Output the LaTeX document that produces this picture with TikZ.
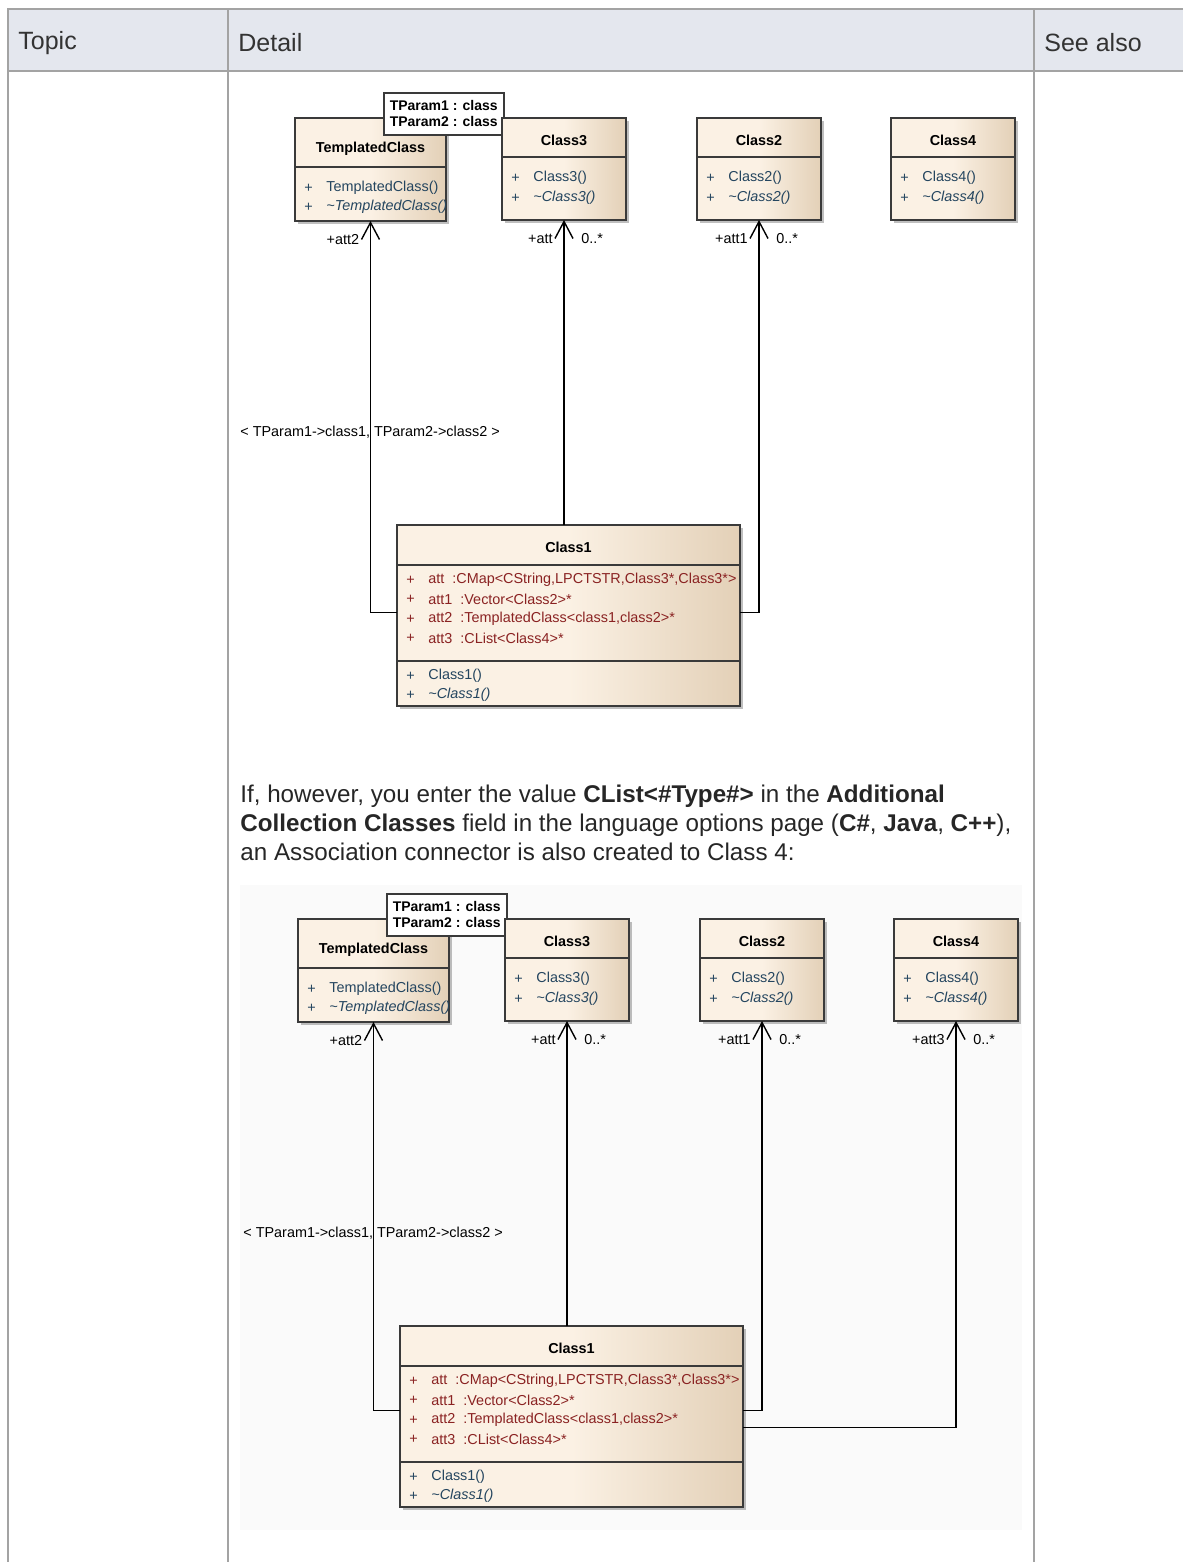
\documentclass[tikz,border=0pt]{standalone}
\usepackage{fontspec}
\setmainfont{Liberation Sans}
\usetikzlibrary{positioning,arrows.meta,shadows}
\definecolor{tablegrid}{HTML}{A3A3A3}
\definecolor{headfill}{HTML}{E4E7EE}
\definecolor{umlcream}{HTML}{FBF1E4}
\definecolor{umltan}{HTML}{E3D0B7}
\definecolor{umledge}{HTML}{3A3A3A}
\definecolor{attred}{HTML}{8A2222}
\definecolor{opblue}{HTML}{24455F}
\definecolor{diagbg}{HTML}{FAFAFA}
\newcommand{\px}{0.5pt}
\newcommand{\umlsize}{\fontsize{7.2pt}{8.6pt}\selectfont}
\newcommand{\textsz}{\fontsize{12.5pt}{14.5pt}\selectfont}
\newcommand{\parasz}{\fontsize{12.1pt}{14.5pt}\selectfont}
% class box: name, north west corner, width, height, title, title offset, rule offset
\newcommand{\umlclass}[7]{%
  \node[classbox,minimum width=#3*\px,minimum height=#4*\px] (#1) at #2 {};
  \node[classtitle] (#1-title) at ([yshift=-#6*\px]#1.north) {#5};
  \draw[seprule] ([yshift=-#7*\px]#1.north west) -- ([yshift=-#7*\px]#1.north east);
}
% one member row: box, offset from top, text, colour
\newcommand{\umlrow}[4]{%
  \node[rowtxt,text=#4] at ([shift={(9,#2)}]#1.north west) {+};
  \node[rowtxt,text=#4] at ([shift={(31,#2)}]#1.north west) {#3};
}

\begin{document}
\begin{tikzpicture}[x=0.5pt,y=-0.5pt,
  tablerule/.style={draw=tablegrid,line width=1pt},
  headtxt/.style={font=\textsz,text=black!80,anchor=west,inner sep=0pt},
  paratxt/.style={font=\parasz,text=black!85,anchor=base west,inner sep=0pt},
  classbox/.style={draw=umledge,line width=0.8pt,anchor=north west,inner sep=0pt,outer sep=0pt,
    left color=umlcream,right color=umltan,middle color=umlcream,
    drop shadow={shadow xshift=1.5pt,shadow yshift=-1.5pt,fill=black,opacity=0.25}},
  seprule/.style={draw=umledge,line width=0.8pt},
  classtitle/.style={font=\umlsize\bfseries,inner sep=0pt},
  rowtxt/.style={font=\umlsize,anchor=west,inner sep=0pt},
  parambox/.style={draw=umledge,line width=0.8pt,fill=white,anchor=north west,
    font=\fontsize{7pt}{8pt}\selectfont\bfseries,align=left,inner xsep=3pt,inner ysep=0pt},
  assoc/.style={draw=black,line width=0.7pt,-{Straight Barb[length=8.5pt,width=9pt]}},
  endlabel/.style={font=\umlsize,inner sep=0pt}]
\useasboundingbox (0,0) rectangle (1183,1562);
% table
\fill[headfill] (8,9) rectangle (1183,71);
\draw[tablerule] (1183,9) -- (8,9) -- (8,1562);
\draw[tablerule] (8,71) -- (1183,71);
\draw[tablerule] (228,9) -- (228,1562);
\draw[tablerule] (1034,9) -- (1034,1562);
\node[headtxt] (topic) at (18,43) {Topic};
\node[headtxt] (detail) at (238,43) {Detail};
\node[headtxt] (seealso) at (1044,43) {See also};
% text between the diagrams
\node[paratxt] (para1) at (240,802) {If, however, you enter the value \textbf{CList<\#Type\#>} in the \textbf{Additional}};
\node[paratxt] (para2) at (240,831) {\textbf{Collection Classes} field in the language options page (\textbf{C\#}, \textbf{Java}, \textbf{C++}),};
\node[paratxt] (para3) at (240,860) {an Association connector is also created to Class 4:};
\fill[diagbg] (240,885) rectangle (1022,1530);
% the two class diagrams
\foreach \d/\dx/\dy in {a/0/0,b/3/801} {
  \begin{scope}[shift={(\dx,\dy)}]
    \umlclass{\d-tc}{(295,118)}{151}{103}{TemplatedClass}{31}{49}
    \umlrow{\d-tc}{70}{TemplatedClass()}{opblue}
    \umlrow{\d-tc}{89}{\itshape\textasciitilde TemplatedClass()}{opblue}
    \node[parambox,minimum width=118*\px,minimum height=42*\px] (\d-tp) at (383,92) {TParam1 : class\\TParam2 : class};
    \umlclass{\d-c3}{(502,118)}{124}{102}{Class3}{22}{39}
    \umlrow{\d-c3}{60}{Class3()}{opblue}
    \umlrow{\d-c3}{80}{\itshape\textasciitilde Class3()}{opblue}
    \umlclass{\d-c2}{(697,118)}{124}{102}{Class2}{22}{39}
    \umlrow{\d-c2}{60}{Class2()}{opblue}
    \umlrow{\d-c2}{80}{\itshape\textasciitilde Class2()}{opblue}
    \umlclass{\d-c4}{(891,118)}{124}{102}{Class4}{22}{39}
    \umlrow{\d-c4}{60}{Class4()}{opblue}
    \umlrow{\d-c4}{80}{\itshape\textasciitilde Class4()}{opblue}
    \umlclass{\d-c1}{(397,525)}{343}{181}{Class1}{22}{40}
    \umlrow{\d-c1}{55}{att\ \ :CMap<CString,LPCTSTR,Class3*,Class3*>}{attred}
    \umlrow{\d-c1}{74}{att1\ \ :Vector<Class2>*}{attred}
    \umlrow{\d-c1}{94}{att2\ \ :TemplatedClass<class1,class2>*}{attred}
    \umlrow{\d-c1}{113}{att3\ \ :CList<Class4>*}{attred}
    \draw[seprule] ([yshift=-136*\px]\d-c1.north west) -- ([yshift=-136*\px]\d-c1.north east);
    \umlrow{\d-c1}{151}{Class1()}{opblue}
    \umlrow{\d-c1}{170}{\itshape\textasciitilde Class1()}{opblue}
    \node[endlabel,anchor=west] (\d-bind) at (240,432) {< TParam1->class1, TParam2->class2 >};
    \node[endlabel,anchor=east] (\d-r2) at ([shift={(-11,19)}]\d-tc.south) {+att2};
    \node[endlabel,anchor=east] (\d-r3) at ([shift={(-11,19)}]\d-c3.south) {+att};
    \node[endlabel,anchor=west] (\d-m3) at ([shift={(17,19)}]\d-c3.south) {0..*};
    \node[endlabel,anchor=east] (\d-r1) at ([shift={(-11,19)}]\d-c2.south) {+att1};
    \node[endlabel,anchor=west] (\d-m1) at ([shift={(17,19)}]\d-c2.south) {0..*};
    \draw[assoc] (\d-c3.south |- \d-c1.north) -- (\d-c3.south);
  \end{scope}
}
% associations of the first diagram
\draw[assoc] ([yshift=3*\px]a-c1.west) -| (a-tc);
\draw[assoc] ([yshift=3*\px]a-c1.east) -| (a-c2);
% associations of the second diagram
\draw[assoc] ([yshift=6*\px]b-c1.west) -| (b-tc);
\draw[assoc] ([yshift=6*\px]b-c1.east) -| (b-c2);
\draw[assoc] ([yshift=-11*\px]b-c1.east) -| (b-c4);
\node[endlabel,anchor=east] (b-r4) at ([shift={(-11,19)}]b-c4.south) {+att3};
\node[endlabel,anchor=west] (b-m4) at ([shift={(17,19)}]b-c4.south) {0..*};
\end{tikzpicture}
\end{document}
